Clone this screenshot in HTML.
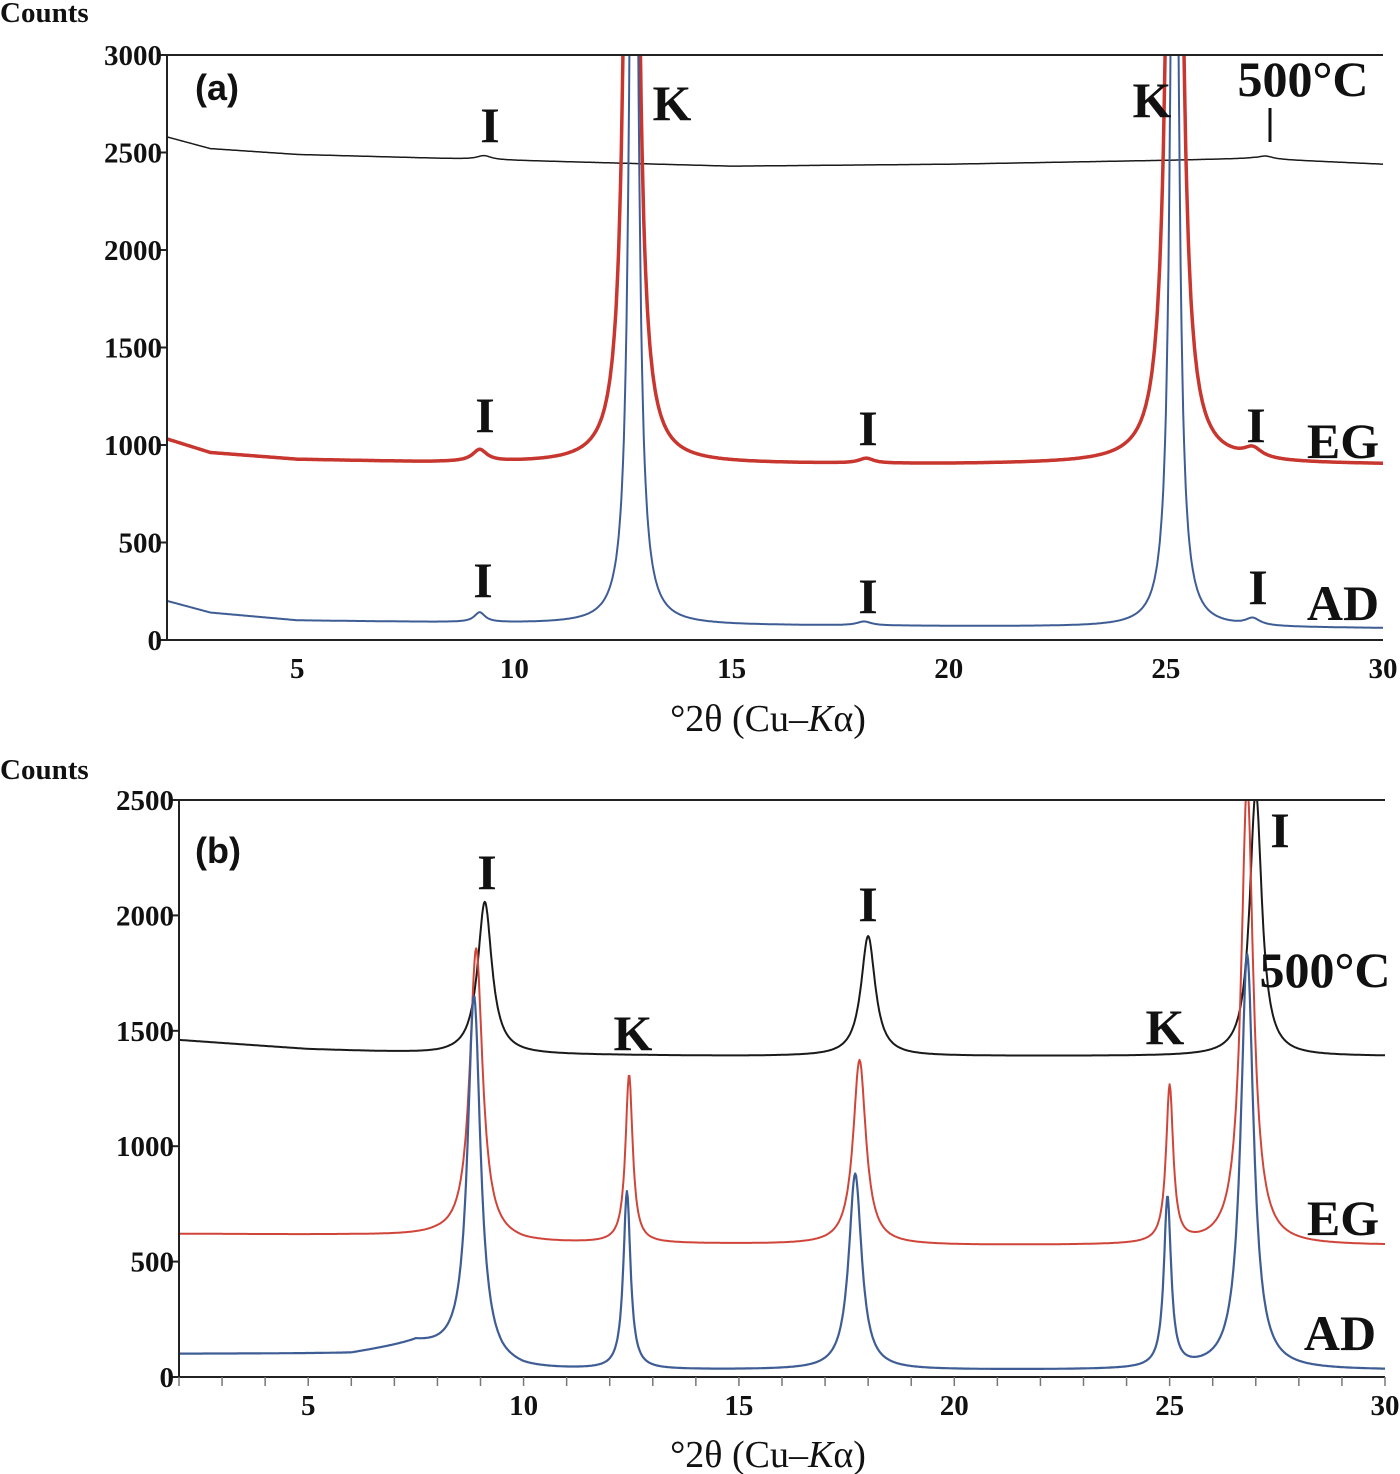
<!DOCTYPE html>
<html><head><meta charset="utf-8"><style>
html,body{margin:0;padding:0;background:#fff;}
svg{display:block;}
text{font-family:"Liberation Serif",serif;font-weight:bold;fill:#111;}
</style></head><body>
<svg id="svg" width="1400" height="1474" viewBox="0 0 1400 1474" xmlns="http://www.w3.org/2000/svg">
<g id="pa"></g>
<g id="pb"></g>
</svg>
<script>
// ---- data: panel (a) ----
const aYTicks = [0,500,1000,1500,2000,2500,3000];
const aXTicks = [5,10,15,20,25,30];
const aHotBase = [[2,2580],[3,2520],[5,2490],[10,2460],[15,2430],[20,2440],[25,2460],[27,2470],[30,2440]];
const aHotPeaks = [[9.3,20,0.2],[27.3,15,0.2]];
const aEGBase = [[2,1030],[3,960],[5,925],[8,910],[11,905],[20,900],[24,905],[30,900]];
const aEGPeaks = [[9.2,60,0.2],[12.7,8000,0.12],[18.1,25,0.2],[25.2,8000,0.13],[27.0,50,0.25]];
const aADBase = [[2,200],[3,140],[5,100],[10,85],[15,75],[20,70],[30,60]];
const aADPeaks = [[9.2,50,0.15],[12.75,6000,0.1],[18.05,20,0.2],[25.2,5500,0.1],[27.0,35,0.2]];
// ---- data: panel (b) ----
const bYTicks = [0,500,1000,1500,2000,2500];
const bXTicks = [5,10,15,20,25,30];
const bHotBase = [[2,1460],[5,1420],[8,1400],[15,1390],[30,1390]];
const bHotPeaks = [[9.1,660,0.2],[18.0,520,0.2],[27.0,1150,0.17]];
const bEGBase = [[2,620],[6,615],[8,610],[10,580],[20,570],[30,570]];
const bEGPeaks = [[8.9,1260,0.18],[12.45,730,0.1],[17.8,800,0.18],[25.0,680,0.1],[26.8,2000,0.17]];
const bADBase = [[2,100],[6,100],[7.5,140],[9.5,40],[10,30],[20,30],[30,30]];
const bADPeaks = [[8.85,1580,0.18],[12.4,770,0.1],[17.7,850,0.18],[24.95,740,0.1],[26.8,1800,0.18]];

const NS="http://www.w3.org/2000/svg";
function el(p,tag,attrs){const e=document.createElementNS(NS,tag);for(const k in attrs)e.setAttribute(k,attrs[k]);p.appendChild(e);return e;}
function baseAt(b,x){for(let i=0;i<b.length-1;i++){if(x<=b[i+1][0]){const t=(x-b[i][0])/(b[i+1][0]-b[i][0]);return b[i][1]+t*(b[i+1][1]-b[i][1]);}}return b[b.length-1][1];}
function valAt(b,pk,x){let v=baseAt(b,x);for(const p of pk){const d=x-p[0];v+=p[1]*p[2]*p[2]/(p[2]*p[2]+d*d);}return v;}

function panel(g,cfg){
  const sx=v=>cfg.x0+(v-2)*(cfg.x1-cfg.x0)/28;
  const sy=v=>cfg.y0-v*(cfg.y0-cfg.y1)/cfg.ymax;
  const clip=el(g,'clipPath',{id:cfg.id+'clip'});
  el(clip,'rect',{x:cfg.x0,y:cfg.y1,width:cfg.x1-cfg.x0,height:cfg.y0-cfg.y1});
  for(const s of cfg.series){
    let d='';
    for(let x=2;x<=30.0001;x+=0.02){const v=valAt(s.base,s.peaks,x);d+=(d?'L':'M')+sx(x).toFixed(1)+','+sy(Math.min(v,cfg.ymax*1.5)).toFixed(1);}
    const p=el(g,'path',{d:d,fill:'none',stroke:s.color,'stroke-width':s.w,'clip-path':'url(#'+cfg.id+'clip)','stroke-linejoin':'round'});
    
    
  }
  const ax=el(g,'path',{d:`M${cfg.x1},${cfg.y1}H${cfg.x0}V${cfg.y0}H${cfg.x1}`,fill:'none',stroke:'#222','stroke-width':2});
  
  
  for(const t of cfg.yt){
    const y=sy(t);
    el(g,'line',{x1:cfg.x0-8,x2:cfg.x0,y1:y,y2:y,stroke:'#222','stroke-width':2});
    const tx=el(g,'text',{x:cfg.x0-5,y:y+10,'text-anchor':'end','font-size':29});
    tx.textContent=t;
    
    
  }
  if(cfg.minor){for(let v=2;v<=30;v++){el(g,'line',{x1:sx(v),x2:sx(v),y1:cfg.y0,y2:cfg.y0+9,stroke:'#777','stroke-width':1.5});}}
  for(const t of cfg.xt){
    const tx=el(g,'text',{x:sx(t),y:cfg.y0+38,'text-anchor':'middle','font-size':29});
    tx.textContent=t;
    
    
  }
}
panel(document.getElementById('pa'),{id:'a',x0:167,x1:1383,y0:640,y1:55,ymax:3000,yt:aYTicks,xt:aXTicks,minor:false,series:[
 {base:aHotBase,peaks:aHotPeaks,color:'#1a1a1a',w:1.5,name:'series-500c'},
 {base:aEGBase,peaks:aEGPeaks,color:'#c8372f',w:3.5,name:'series-eg'},
 {base:aADBase,peaks:aADPeaks,color:'#3f5d95',w:2,name:'series-ad'}]});
panel(document.getElementById('pb'),{id:'b',x0:179,x1:1385,y0:1377,y1:800,ymax:2500,yt:bYTicks,xt:bXTicks,minor:true,series:[
 {base:bHotBase,peaks:bHotPeaks,color:'#1a1a1a',w:2,name:'series-500c'},
 {base:bEGBase,peaks:bEGPeaks,color:'#d0453a',w:2,name:'series-eg'},
 {base:bADBase,peaks:bADPeaks,color:'#3f5d95',w:2.2,name:'series-ad'}]});
</script>
<svg style="position:absolute;left:0;top:0" width="1400" height="1474">
<text x="0" y="22" font-size="29">Counts</text>
<text x="0" y="779" font-size="29">Counts</text>
<text x="195" y="100" font-size="36" style="font-family:'Liberation Sans',sans-serif">(a)</text>
<text x="195" y="863" font-size="36" style="font-family:'Liberation Sans',sans-serif">(b)</text>
<text x="768" y="731" font-size="38" text-anchor="middle" style="font-weight:normal">°2θ (Cu–<tspan font-style="italic">K</tspan>α)</text>
<text x="768" y="1467" font-size="38" text-anchor="middle" style="font-weight:normal">°2θ (Cu–<tspan font-style="italic">K</tspan>α)</text>
<g font-size="50" text-anchor="middle">
<text x="490" y="142">I</text><text x="672" y="120">K</text><text x="1152" y="117">K</text>
<text x="1303" y="96" font-size="50">500°C</text>
<text x="485" y="432">I</text><text x="868" y="445">I</text><text x="1256" y="442">I</text>
<text x="1343" y="458">EG</text>
<text x="483" y="597">I</text><text x="868" y="613">I</text><text x="1258" y="604">I</text>
<text x="1343" y="620">AD</text>
</g>
<line x1="1270" y1="108" x2="1270" y2="142" stroke="#111" stroke-width="3"/>
<g font-size="50" text-anchor="middle">
<text x="487" y="889">I</text><text x="868" y="921">I</text><text x="1280" y="847">I</text>
<text x="1325" y="987">500°C</text>
<text x="633" y="1050">K</text><text x="1165" y="1044">K</text>
<text x="1343" y="1235">EG</text><text x="1340" y="1350">AD</text>
</g>
</svg>
</body></html>
